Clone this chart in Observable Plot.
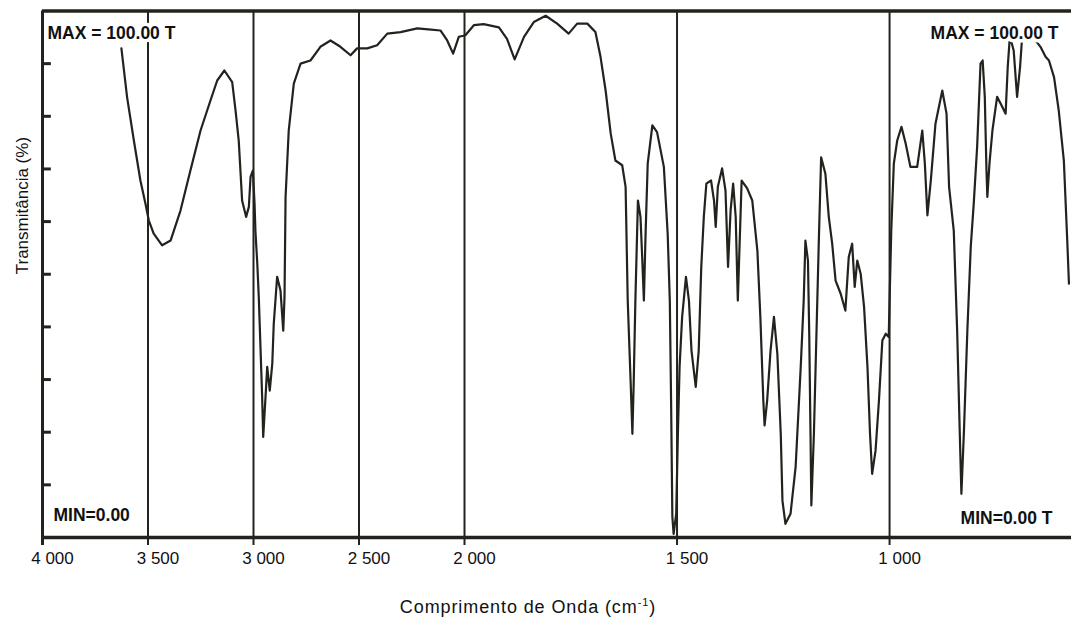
<!DOCTYPE html>
<html>
<head>
<meta charset="utf-8">
<script src="https://cdn.jsdelivr.net/npm/d3@7"></script>
<script src="https://cdn.jsdelivr.net/npm/@observablehq/plot@0.6"></script>
<style>
  html, body { margin: 0; padding: 0; background: #fff; }
  #chart svg { display: block; }
</style>
</head>
<body>
<div id="chart"></div>
<script>
// Wavenumber (cm-1) of traced points along the spectrum
const wavenumber = [
  3626, 3599, 3567, 3536, 3512, 3496, 3473, 3433, 3393, 3346, 3299, 3251, 3204, 3172, 3138, 3101, 3085, 3070, 3054, 3035,
  3022, 3014, 3003, 2995, 2991, 2982, 2975, 2967, 2959, 2954, 2943, 2935, 2923, 2911, 2904, 2888, 2872, 2859, 2853, 2848,
  2833, 2809, 2777, 2730, 2683, 2635, 2588, 2540, 2509, 2461, 2414, 2366, 2303, 2224, 2171, 2114, 2082, 2054, 2027, 2005,
  1998, 1978, 1955, 1919, 1900, 1882, 1860, 1837, 1809, 1782, 1755, 1735, 1711, 1692, 1680, 1668, 1656, 1645, 1629, 1621,
  1616, 1609, 1605, 1602, 1598, 1592, 1586, 1582, 1578, 1574, 1569, 1558, 1547, 1531, 1522, 1517, 1514, 1511, 1508, 1502,
  1498, 1494, 1488, 1479, 1472, 1466, 1456, 1449, 1443, 1437, 1431, 1420, 1413, 1409, 1404, 1394, 1386, 1380, 1374, 1368,
  1362, 1357, 1352, 1348, 1335, 1323, 1311, 1304, 1297, 1294, 1288, 1280, 1272, 1264, 1256, 1252, 1245, 1233, 1221, 1209,
  1202, 1198, 1192, 1189, 1186, 1184, 1178, 1172, 1166, 1161, 1151, 1143, 1135, 1127, 1115, 1104, 1096, 1088, 1082, 1076,
  1068, 1060, 1052, 1046, 1041, 1033, 1025, 1017, 1009, 1002, 996, 990, 982, 972, 962, 951, 935, 923, 917, 911,
  903, 892, 876, 866, 860, 849, 841, 835, 831, 825, 817, 809, 802, 794, 786, 781, 776, 772, 770, 765,
  758, 747, 735, 727, 722, 717, 708, 700, 693, 688, 668, 645, 633, 625, 613, 602, 590, 582, 578
];
// Transmittance (%) at each traced point
const transmittance = [
  92.9, 83.6, 75.4, 67.8, 63.4, 60.2, 57.7, 55.5, 56.4, 62.1, 69.7, 77.3, 83.0, 86.8, 88.7, 86.5, 81.1, 75.4, 64.0, 60.9,
  62.8, 68.5, 69.7, 63.4, 58.3, 52.0, 45.7, 36.2, 26.7, 19.1, 26.7, 32.4, 27.9, 33.0, 40.6, 49.5, 46.9, 39.3, 45.7, 64.7,
  77.3, 86.2, 90.0, 90.6, 93.2, 94.4, 93.2, 91.6, 92.9, 92.9, 93.5, 95.7, 96.0, 96.7, 96.5, 96.3, 94.4, 91.9, 95.1, 95.3,
  95.4, 97.3, 97.5, 96.9, 94.7, 90.8, 95.1, 97.9, 99.1, 97.6, 95.7, 97.6, 97.6, 96.0, 91.3, 84.9, 76.7, 71.6, 70.7, 66.6,
  45.0, 29.2, 19.7, 29.2, 45.0, 64.0, 60.9, 53.3, 45.0, 57.7, 71.0, 78.3, 77.0, 70.4, 57.7, 45.0, 26.0, 3.9, 0.7, 4.5,
  19.7, 32.4, 41.9, 49.5, 45.0, 35.5, 28.6, 35.5, 51.4, 60.9, 67.2, 67.8, 64.0, 59.0, 66.6, 70.1, 65.9, 51.4, 62.1, 67.2,
  60.9, 45.0, 57.7, 67.8, 66.3, 64.0, 54.5, 41.9, 26.0, 21.3, 26.0, 35.5, 41.9, 34.9, 19.7, 7.0, 2.6, 4.5, 13.4, 32.4,
  45.0, 56.4, 52.6, 38.7, 19.7, 6.1, 19.7, 38.7, 57.7, 72.2, 69.1, 60.9, 55.8, 48.8, 46.3, 43.1, 53.3, 55.8, 47.6, 52.6,
  50.1, 43.8, 32.4, 19.7, 12.1, 16.5, 26.0, 37.4, 38.7, 38.1, 58.3, 71.0, 75.4, 78.0, 74.8, 70.4, 70.4, 77.3, 71.0, 61.2,
  67.8, 78.6, 84.9, 80.5, 66.6, 58.3, 39.3, 20.3, 8.3, 20.3, 39.3, 55.2, 63.4, 74.2, 90.0, 90.6, 83.7, 69.7, 64.7, 71.0,
  77.3, 83.7, 81.8, 80.5, 89.4, 95.2, 92.5, 83.7, 89.4, 95.2, 95.6, 93.2, 91.3, 90.6, 87.4, 81.1, 71.6, 56.4, 48.2
];
// Axis ticks
const xTicks = [4000, 3500, 3000, 2500, 2000, 1500, 1000];
const xTickLabels = ["4 000", "3 500", "3 000", "2 500", "2 000", "1 500", "1 000"];
const gridLines = [3500, 3000, 2500, 2000, 1500, 1000];
const yTicks = [10, 20, 30, 40, 50, 60, 70, 80, 90];
const xDomain = [4000, 2000, 572];

const ink = "#23231e";
const font = "'Liberation Sans', Arial, Helvetica, sans-serif";
const spectrum = wavenumber.map((w, i) => ({w, t: transmittance[i]}));
const tickData = xTicks.map((v, i) => ({v, label: xTickLabels[i]}));

const chart = Plot.plot({
  width: 1071,
  height: 620,
  marginLeft: 42,
  marginRight: 0,
  marginTop: 10.5,
  marginBottom: 83,
  x: {type: "linear", domain: xDomain, range: [42, 464, 1071], axis: null},
  y: {type: "linear", domain: [0, 100], range: [537, 10.5], axis: null},
  style: {background: "#ffffff", color: ink, fontFamily: font, overflow: "visible"},
  marks: [
    // vertical grid lines (extend below axis as ticks)
    Plot.ruleX(gridLines, {x: d => d, y1: -1.5, y2: 100, stroke: ink, strokeWidth: 2}),
    // left edge, also the 4000 tick below the axis
    Plot.ruleX([4000], {x: d => d, y1: -1.5, y2: 100, stroke: ink, strokeWidth: 3}),
    // top and bottom frame lines
    Plot.ruleY([100], {y: d => d, x1: 4000, x2: 572, stroke: ink, strokeWidth: 3.5}),
    Plot.ruleY([0], {y: d => d, x1: 4000, x2: 572, stroke: ink, strokeWidth: 3.5}),
    // inward y ticks
    Plot.ruleY(yTicks, {y: d => d, x1: 4000, x2: 3958, stroke: ink, strokeWidth: 3}),
    // spectrum
    Plot.line(spectrum, {x: "w", y: "t", stroke: ink, strokeWidth: 2.2, strokeLinejoin: "round", curve: "linear"}),
    // x tick labels
    Plot.text(tickData, {x: "v", y: 0, text: "label", dy: 21, dx: 10, fontSize: 17, lineAnchor: "middle", fill: "#111", letterSpacing: 1}),
    // corner annotations
    Plot.text(["MAX = 100.00 T"], {frameAnchor: "top-left", dx: 5, dy: 22, text: d => d, textAnchor: "start", lineAnchor: "middle", fontSize: 17.5, fontWeight: "bold", fill: "#111", stroke: "white", strokeWidth: 7, paintOrder: "stroke"}),
    Plot.text(["MAX = 100.00 T"], {frameAnchor: "top-right", dx: -13, dy: 22.5, text: d => d, textAnchor: "end", lineAnchor: "middle", fontSize: 17.5, fontWeight: "bold", fill: "#111", stroke: "white", strokeWidth: 7, paintOrder: "stroke"}),
    Plot.text(["MIN=0.00"], {frameAnchor: "bottom-left", dx: 11, dy: -22, text: d => d, textAnchor: "start", lineAnchor: "middle", fontSize: 17.5, fontWeight: "bold", fill: "#111"}),
    Plot.text(["MIN=0.00 T"], {frameAnchor: "bottom-right", dx: -19, dy: -19, text: d => d, textAnchor: "end", lineAnchor: "middle", fontSize: 17.5, fontWeight: "bold", fill: "#111"}),
    // y axis title
    Plot.text(["Transmitância (%)"], {frameAnchor: "left", dx: -20, rotate: -90, text: d => d, lineAnchor: "middle", fontSize: 17, fill: "#111"})
  ]
});

// x axis title with superscript
const svg = d3.select(chart);
const title = svg.append("text")
  .attr("x", 528).attr("y", 613)
  .attr("text-anchor", "middle")
  .attr("font-family", font)
  .attr("font-size", 18)
  .attr("letter-spacing", 0.9)
  .attr("fill", "#111");
title.append("tspan").text("Comprimento de Onda (cm");
title.append("tspan").attr("dy", -7).attr("font-size", 11).text("-1");
title.append("tspan").attr("dy", 7).text(")");

document.getElementById("chart").appendChild(chart);
</script>
</body>
</html>
